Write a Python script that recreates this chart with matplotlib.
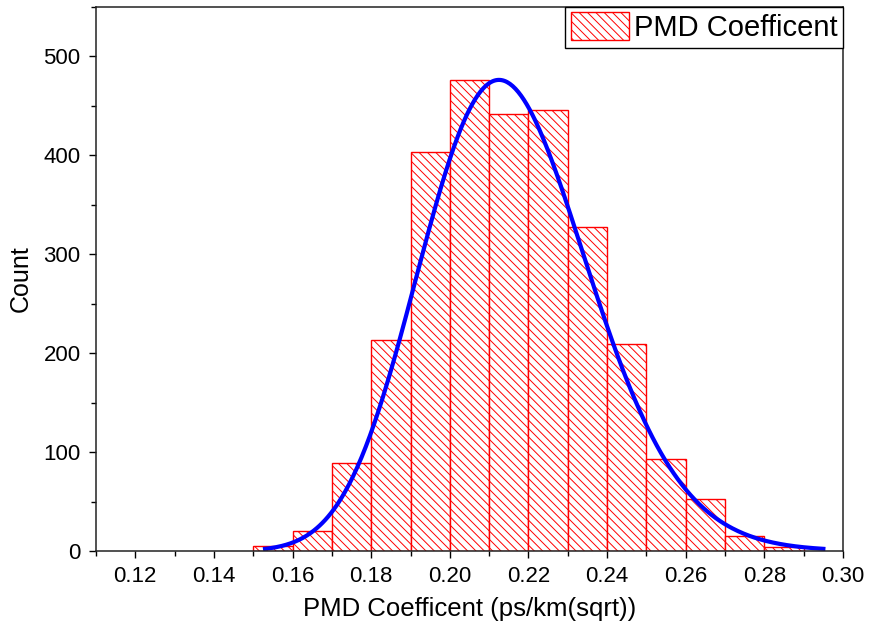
import numpy as np
import matplotlib.pyplot as plt
from matplotlib.ticker import MultipleLocator

plt.rcParams['font.family'] = ['Liberation Sans', 'DejaVu Sans']
plt.rcParams['hatch.linewidth'] = 0.7

# histogram bins (left edges) and counts
bin_left = [0.15, 0.16, 0.17, 0.18, 0.19, 0.20, 0.21, 0.22, 0.23, 0.24, 0.25, 0.26, 0.27, 0.28]
counts = [5, 20, 89, 213, 403, 476, 442, 446, 327, 209, 93, 53, 15, 4]
bin_width = 0.01

# fitted distribution curve (lognormal)
fit_mode = 0.2125
fit_peak = 476
fit_sigma = 0.10
fit_start, fit_end = 0.153, 0.295


def fit_curve(x):
    mu = np.log(fit_mode) + fit_sigma ** 2
    f = np.exp(-(np.log(x) - mu) ** 2 / (2 * fit_sigma ** 2)) / x
    f_mode = np.exp(-(np.log(fit_mode) - mu) ** 2 / (2 * fit_sigma ** 2)) / fit_mode
    return fit_peak * f / f_mode


fig = plt.figure(figsize=(8.7, 6.28), dpi=100)
ax = fig.add_axes([0.1103, 0.1226, 0.8587, 0.8668])

ax.bar(bin_left, counts, width=bin_width, align='edge', facecolor='white',
       edgecolor='red', linewidth=1.0, hatch='\\\\\\\\', label='PMD Coefficent')

xs = np.linspace(fit_start, fit_end, 400)
ax.plot(xs, fit_curve(xs), color='#0000ff', linewidth=3)

ax.set_xlim(0.11, 0.30)
ax.set_ylim(0, 550)
ax.xaxis.set_major_locator(MultipleLocator(0.02))
ax.xaxis.set_minor_locator(MultipleLocator(0.01))
ax.yaxis.set_major_locator(MultipleLocator(100))
ax.yaxis.set_minor_locator(MultipleLocator(50))
ax.xaxis.set_major_formatter(plt.FuncFormatter(lambda v, p: f'{v:.2f}'))

ax.tick_params(which='major', direction='out', length=5, width=1, labelsize=16, pad=6)
ax.tick_params(which='minor', direction='out', length=3.5, width=1)
for s in ax.spines.values():
    s.set_linewidth(1.1)
    s.set_color('#222222')

ax.set_xlabel('PMD Coefficent (ps/km(sqrt))', fontsize=18.5, labelpad=7)
ax.set_ylabel('Count', fontsize=18, labelpad=8)

leg = ax.legend(loc='upper right', borderaxespad=0, fancybox=False, fontsize=21,
                handlelength=2.0, handleheight=1.05, handletextpad=0.15,
                borderpad=0.2, framealpha=1)
leg.get_frame().set_edgecolor('black')
leg.get_frame().set_linewidth(1.0)

fig.savefig('out.png', dpi=100)
